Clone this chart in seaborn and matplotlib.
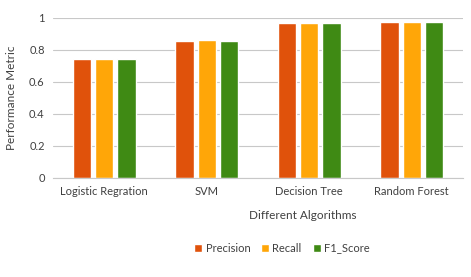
import numpy as np
import pandas as pd
import matplotlib
matplotlib.use("Agg")
import matplotlib.pyplot as plt
import seaborn as sns

# ── data ────────────────────────────────────────
algorithms = ["Logistic Regration", "SVM", "Decision Tree", "Random Forest"]
precision = [0.745, 0.858, 0.970, 0.975]
recall    = [0.745, 0.860, 0.970, 0.976]
f1_score  = [0.744, 0.857, 0.970, 0.975]
metric_names = ["Precision", "Recall", "F1_Score"]

df = pd.DataFrame({
    "Algorithm": algorithms * 3,
    "Metric": np.repeat(metric_names, len(algorithms)),
    "Value": precision + recall + f1_score,
})

palette = {"Precision": "#E0520B", "Recall": "#FFA608", "F1_Score": "#3F8A14"}

sns.set_style("white")
plt.rcParams["font.family"] = ["Lato", "DejaVu Sans"]
text_col = "#404040"

fig = plt.figure(figsize=(4.71, 2.77), dpi=100)
ax = fig.add_axes([53 / 471, 1 - 178 / 277, 410 / 471, 160 / 277])

sns.barplot(data=df, x="Algorithm", y="Value", hue="Metric", palette=palette,
            hue_order=metric_names, order=algorithms, width=0.65, gap=0.18,
            saturation=1, ax=ax, legend=True)

ax.set_ylim(0, 1)
ax.set_yticks([0, 0.2, 0.4, 0.6, 0.8, 1])
ax.set_yticklabels(["0", "0.2", "0.4", "0.6", "0.8", "1"])
ax.yaxis.grid(True, color="#C8C8C8", lw=0.8)
ax.set_axisbelow(True)
for s in ["top", "right", "left"]:
    ax.spines[s].set_visible(False)
ax.spines["bottom"].set_color("#C8C8C8")
ax.tick_params(axis="both", length=0, labelsize=8, colors=text_col, pad=6)
ax.set_xlabel("Different Algorithms", fontsize=8.5, color=text_col)
ax.xaxis.set_label_coords(0.61, -0.2)
ax.set_ylabel("Performance Metric", fontsize=8.5, color=text_col, labelpad=9)

ax.legend(loc="center", bbox_to_anchor=(282 / 471, 1 - 248 / 277),
          bbox_transform=fig.transFigure, ncol=3, frameon=False,
          fontsize=8, handlelength=0.7, handleheight=0.7, handletextpad=0.3,
          columnspacing=1.0, labelcolor=text_col)

fig.savefig("out.png", dpi=100)
